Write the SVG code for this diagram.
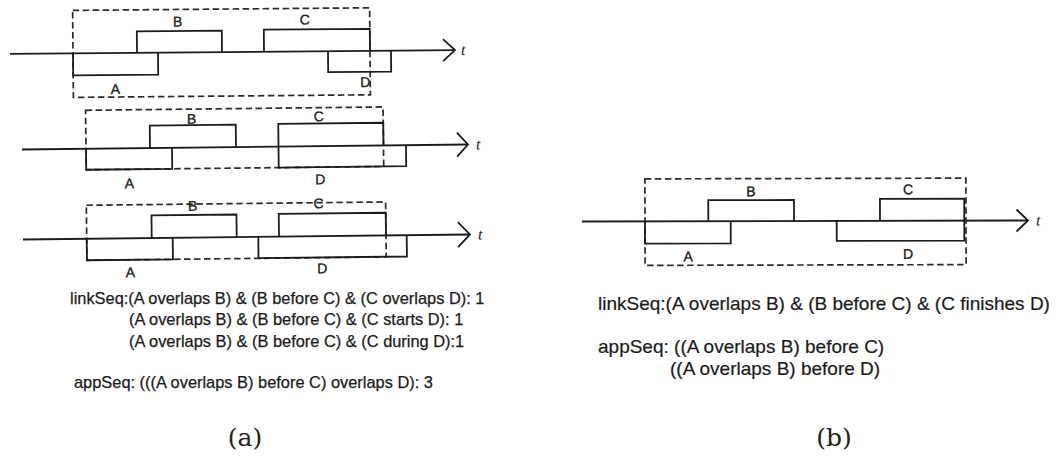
<svg xmlns="http://www.w3.org/2000/svg" width="1060" height="457" viewBox="0 0 1060 457">
  <style>
    .ln { fill: none; stroke: #1c1c1c; stroke-width: 1.8; stroke-linejoin: miter; }
    .dash { fill: none; stroke: #2a2a2a; stroke-width: 1.7; stroke-dasharray: 6.5 3.5; }
    .lbl { font-family: "Liberation Sans", Arial, sans-serif; font-size: 14px; fill: #1c1c1c; stroke: #1c1c1c; stroke-width: 0.35; text-anchor: middle; }
    .t { font-family: "Liberation Serif", "Times New Roman", serif; font-style: italic; font-size: 16px; fill: #222; }
    .txa { font-family: "Liberation Sans", Arial, sans-serif; font-size: 16.4px; fill: #1a1a1a; stroke: #1a1a1a; stroke-width: 0.25; }
    .txb { font-family: "Liberation Sans", Arial, sans-serif; font-size: 19px; fill: #1a1a1a; stroke: #1a1a1a; stroke-width: 0.2; }
    .cap { font-family: "DejaVu Serif", "Liberation Serif", serif; font-size: 25px; fill: #222; text-anchor: middle; }
  </style>
  <rect width="1060" height="457" fill="#ffffff"/>

  <!-- (a) first timeline: C overlaps D -->
  <g id="a1" transform="rotate(-0.5 232 52)">
    <g id="a1-axis">
      <path class="ln" d="M10,52 H455"/>
      <path class="ln" d="M443,41 L455,52 L443,63"/>
      <text class="t" x="461" y="57">t</text>
    </g>
    <rect class="dash" x="73" y="9" width="297" height="87"/>
    <g id="a1-A"><path class="ln" d="M73,52 V74 H158 V52"/><text class="lbl" x="115" y="93">A</text></g>
    <g id="a1-B"><path class="ln" d="M137,52 V30.5 H222 V52"/><text class="lbl" x="178" y="26">B</text></g>
    <g id="a1-C"><path class="ln" d="M264,52 V30 H370 V52"/><text class="lbl" x="305" y="25">C</text></g>
    <g id="a1-D"><path class="ln" d="M328,52 V73 H391 V52"/><text class="lbl" x="365" y="88">D</text></g>
  </g>

  <!-- (a) second timeline: C starts D -->
  <g id="a2" transform="rotate(-0.64 245 147)">
    <g id="a2-axis">
      <path class="ln" d="M22,147 H468"/>
      <path class="ln" d="M457,135 L468,147 L457,159"/>
      <text class="t" x="476" y="152">t</text>
    </g>
    <rect class="dash" x="86" y="108.5" width="297.5" height="59.5"/>
    <g id="a2-A"><path class="ln" d="M86,147 V168 H172 V147"/><text class="lbl" x="129" y="187">A</text></g>
    <g id="a2-B"><path class="ln" d="M150,147 V124.5 H236 V147"/><text class="lbl" x="192" y="123">B</text></g>
    <g id="a2-C"><path class="ln" d="M278.5,147 V124.3 H383.5 V147"/><text class="lbl" x="319" y="122">C</text></g>
    <g id="a2-D"><path class="ln" d="M278.5,147 V168 H406 V147"/><text class="lbl" x="320" y="185">D</text></g>
  </g>

  <!-- (a) third timeline: C during D -->
  <g id="a3" transform="rotate(-0.64 245 237)">
    <g id="a3-axis">
      <path class="ln" d="M23,237 H470"/>
      <path class="ln" d="M458,224.5 L470,237 L458,249.5"/>
      <text class="t" x="478" y="242">t</text>
    </g>
    <rect class="dash" x="86.7" y="203.5" width="299.3" height="55"/>
    <g id="a3-A"><path class="ln" d="M86.7,237 V258.5 H172.7 V237"/><text class="lbl" x="130" y="276">A</text></g>
    <g id="a3-B"><path class="ln" d="M151.7,237 V214.4 H236.7 V237"/><text class="lbl" x="193" y="210">B</text></g>
    <g id="a3-C"><path class="ln" d="M279,237 V214.3 H386 V237"/><text class="lbl" x="319" y="209">C</text></g>
    <g id="a3-D"><path class="ln" d="M258.3,237 V258.3 H406.7 V237"/><text class="lbl" x="322" y="274">D</text></g>
  </g>

  <!-- (a) relation listings -->
  <g id="a-text">
    <text class="txa" x="70" y="304">linkSeq:(A overlaps B) &amp; (B before C) &amp; (C overlaps D): 1</text>
    <text class="txa" x="129" y="325">(A overlaps B) &amp; (B before C) &amp; (C starts D): 1</text>
    <text class="txa" x="129" y="347">(A overlaps B) &amp; (B before C) &amp; (C during D):1</text>
    <text class="txa" x="74" y="388">appSeq: (((A overlaps B) before C) overlaps D): 3</text>
  </g>

  <!-- (b) timeline: C finishes D -->
  <g id="b1" transform="rotate(-0.13 805 221)">
    <g id="b1-axis">
      <path class="ln" d="M582,221 H1028"/>
      <path class="ln" d="M1016.5,210 L1028,221 L1016.5,232"/>
      <text class="t" x="1036" y="226">t</text>
    </g>
    <rect class="dash" x="645" y="178.5" width="321" height="86.5"/>
    <g id="b1-A"><path class="ln" d="M645,221 V243.3 H730.7 V221"/><text class="lbl" x="688" y="261">A</text></g>
    <g id="b1-B"><path class="ln" d="M708.3,221 V200 H794 V221"/><text class="lbl" x="751" y="196">B</text></g>
    <g id="b1-C"><path class="ln" d="M880,221 V199 H964.3 V221"/><text class="lbl" x="908" y="194.5">C</text></g>
    <g id="b1-D"><path class="ln" d="M836.7,221 V241 H964.3 V221"/><text class="lbl" x="908" y="259">D</text></g>
  </g>

  <!-- (b) relation listings -->
  <g id="b-text">
    <text class="txb" x="598" y="310">linkSeq:(A overlaps B) &amp; (B before C) &amp; (C finishes D)</text>
    <text class="txb" x="598" y="353">appSeq: ((A overlaps B) before C)</text>
    <text class="txb" x="670" y="375">((A overlaps B) before D)</text>
  </g>

  <!-- sub-figure captions -->
  <text class="cap" x="245" y="446">(a)</text>
  <text class="cap" x="834" y="446">(b)</text>
</svg>
